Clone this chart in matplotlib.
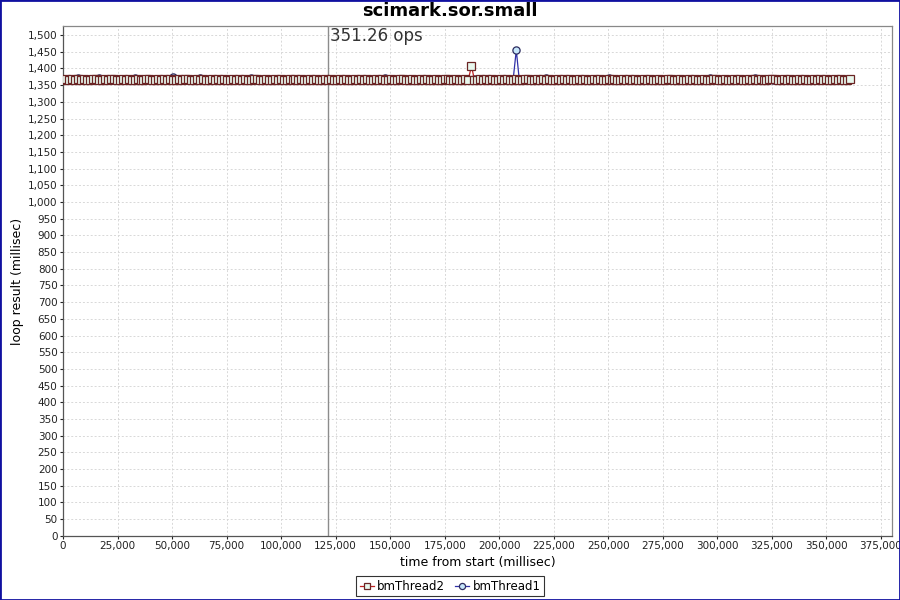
import matplotlib
matplotlib.use("Agg")
import matplotlib.pyplot as plt
from matplotlib.ticker import MultipleLocator, FuncFormatter
from matplotlib.patches import Rectangle
import numpy as np

# loop results (millisec) per thread; time from start is the running total
thread2_ms = [
    1366, 1367, 1365, 1368, 1366, 1367, 1366, 1369, 1365, 1366, 1367, 1368, 1366, 1365, 1367, 1366, 1369, 1367, 1366, 1365,
    1367, 1366, 1368, 1365, 1366, 1367, 1366, 1365, 1368, 1367, 1366, 1366, 1367, 1365, 1368, 1366, 1367, 1366, 1365, 1367,
    1366, 1368, 1367, 1365, 1366, 1367, 1366, 1369, 1366, 1365, 1367, 1366, 1368, 1366, 1367, 1365, 1366, 1367, 1366, 1368,
    1365, 1367, 1366, 1366, 1368, 1367, 1365, 1366, 1367, 1366, 1365, 1368, 1366, 1367, 1366, 1365, 1367, 1366, 1368, 1366,
    1367, 1365, 1366, 1367, 1366, 1368, 1366, 1365, 1367, 1366, 1367, 1366, 1365, 1368, 1366, 1367, 1366, 1365, 1367, 1366,
    1368, 1366, 1367, 1365, 1366, 1367, 1366, 1368, 1365, 1366, 1367, 1366, 1365, 1367, 1368, 1366, 1366, 1367, 1365, 1366,
    1367, 1366, 1368, 1366, 1365, 1367, 1366, 1366, 1368, 1367, 1365, 1366, 1367, 1366, 1365, 1368, 1366, 1408, 1366, 1365,
    1367, 1366, 1368, 1366, 1367, 1365, 1366, 1367, 1366, 1368, 1365, 1366, 1367, 1366, 1365, 1368, 1367, 1366, 1366, 1367,
    1365, 1368, 1366, 1367, 1366, 1365, 1367, 1366, 1368, 1366, 1367, 1365, 1366, 1367, 1366, 1368, 1366, 1365, 1367, 1366,
    1367, 1366, 1365, 1368, 1366, 1367, 1366, 1365, 1367, 1366, 1368, 1366, 1367, 1365, 1366, 1367, 1366, 1368, 1365, 1366,
    1367, 1366, 1365, 1367, 1368, 1366, 1366, 1367, 1365, 1366, 1367, 1366, 1368, 1366, 1365, 1367, 1366, 1366, 1368, 1367,
    1365, 1366, 1367, 1366, 1365, 1368, 1366, 1367, 1366, 1365, 1367, 1366, 1368, 1366, 1367, 1365, 1366, 1367, 1369, 1368,
    1366, 1365, 1367, 1366, 1367, 1366, 1365, 1368, 1366, 1367, 1366, 1365, 1367, 1366, 1368, 1366, 1367, 1365, 1366, 1367,
    1366, 1368, 1365, 1366, 1367,
]

thread1_ms = [
    1368, 1366, 1367, 1365, 1366, 1371, 1366, 1365, 1367, 1366, 1368, 1366, 1372, 1365, 1366, 1367, 1366, 1365, 1368, 1366,
    1367, 1366, 1365, 1367, 1370, 1366, 1367, 1365, 1366, 1368, 1366, 1367, 1366, 1365, 1367, 1366, 1368, 1373, 1366, 1365,
    1367, 1366, 1366, 1368, 1367, 1365, 1371, 1367, 1366, 1365, 1368, 1366, 1367, 1366, 1365, 1367, 1366, 1368, 1366, 1367,
    1365, 1366, 1367, 1370, 1368, 1365, 1366, 1367, 1366, 1365, 1367, 1368, 1366, 1366, 1367, 1365, 1368, 1366, 1367, 1366,
    1365, 1367, 1366, 1368, 1366, 1367, 1365, 1366, 1367, 1366, 1368, 1365, 1366, 1367, 1366, 1365, 1367, 1368, 1366, 1366,
    1367, 1365, 1366, 1367, 1366, 1368, 1366, 1365, 1371, 1366, 1366, 1368, 1367, 1365, 1366, 1367, 1366, 1365, 1368, 1366,
    1367, 1366, 1365, 1367, 1366, 1368, 1366, 1367, 1365, 1366, 1367, 1366, 1368, 1366, 1365, 1367, 1366, 1366, 1368, 1367,
    1365, 1366, 1367, 1366, 1365, 1368, 1366, 1367, 1366, 1365, 1367, 1366, 1455, 1366, 1367, 1365, 1366, 1367, 1366, 1368,
    1365, 1366, 1372, 1366, 1365, 1368, 1367, 1366, 1366, 1367, 1365, 1368, 1366, 1367, 1366, 1365, 1367, 1366, 1368, 1366,
    1367, 1365, 1366, 1371, 1366, 1368, 1366, 1365, 1367, 1366, 1367, 1366, 1365, 1368, 1366, 1367, 1366, 1365, 1367, 1366,
    1368, 1366, 1367, 1365, 1366, 1367, 1366, 1368, 1365, 1366, 1367, 1366, 1365, 1367, 1368, 1366, 1366, 1370, 1365, 1366,
    1367, 1366, 1368, 1366, 1365, 1367, 1366, 1366, 1368, 1367, 1365, 1366, 1372, 1366, 1365, 1368, 1366, 1367, 1366, 1365,
    1367, 1366, 1368, 1366, 1367, 1365, 1366, 1367, 1366, 1368, 1366, 1365, 1367, 1366, 1367, 1366, 1365, 1368, 1366, 1367,
    1366, 1365, 1367, 1366,
]

marker_x = 121400
marker_label = "351.26 ops"


def thousands(v, pos):
    return f"{int(v):,}"


def main():
    t2 = np.array(thread2_ms, dtype=float)
    t1 = np.array(thread1_ms, dtype=float)
    x2 = np.cumsum(t2) - t2[0]
    x1 = np.cumsum(t1) - t1[0]

    plt.rcParams["font.family"] = "DejaVu Sans"
    fig = plt.figure(figsize=(9, 6), dpi=100)
    ax = fig.add_axes([0.07, 0.107, 0.921, 0.849])

    ax.plot(x1, t1, color="#3030a8", lw=0.9, marker="o", ms=5.2,
            mfc="#c6e6fa", mec="#2c2c60", mew=0.9, label="bmThread1", zorder=3)
    ax.plot(x2, t2, color="#c02020", lw=0.9, marker="s", ms=5.2,
            mfc="#e8f8ee", mec="#6a2424", mew=0.9, label="bmThread2", zorder=4)

    ax.axvline(marker_x, color="#8c8c8c", lw=1, zorder=2)
    ax.text(marker_x + 800, 1524, marker_label, fontsize=12, color="#333333",
            ha="left", va="top")

    ax.set_xlim(0, 380000)
    ax.set_ylim(0, 1526)
    ax.xaxis.set_major_locator(MultipleLocator(25000))
    ax.yaxis.set_major_locator(MultipleLocator(50))
    ax.xaxis.set_major_formatter(FuncFormatter(thousands))
    ax.yaxis.set_major_formatter(FuncFormatter(thousands))
    ax.tick_params(labelsize=7.5, length=2, width=0.8, colors="#222222", pad=2)
    ax.grid(True, color="#d8d8d8", ls=(0, (2, 2)), lw=0.7)
    ax.set_axisbelow(True)
    for s in ax.spines.values():
        s.set_color("#888888")
        s.set_linewidth(0.9)
    ax.spines["left"].set_color("#555555")
    ax.spines["bottom"].set_color("#555555")

    ax.set_xlabel("time from start (millisec)", fontsize=9, labelpad=3)
    ax.set_ylabel("loop result (millisec)", fontsize=9, labelpad=3)
    fig.suptitle("scimark.sor.small", fontsize=13, fontweight="bold", y=0.997)

    handles, labels = ax.get_legend_handles_labels()
    leg = fig.legend(handles[::-1], labels[::-1], loc="lower center",
                     bbox_to_anchor=(0.5, 0.0), borderaxespad=0.3, ncol=2,
                     fontsize=8.5, frameon=True, fancybox=False,
                     edgecolor="black", handlelength=1.2, handletextpad=0.3,
                     columnspacing=0.8, borderpad=0.3, markerscale=0.85)
    leg.get_frame().set_linewidth(0.8)

    fig.patches.append(Rectangle((0, 0), 1, 1, transform=fig.transFigure,
                                 fill=False, edgecolor="#1010a0", lw=2.0))

    fig.savefig("out.png", dpi=100)


if __name__ == "__main__":
    main()
